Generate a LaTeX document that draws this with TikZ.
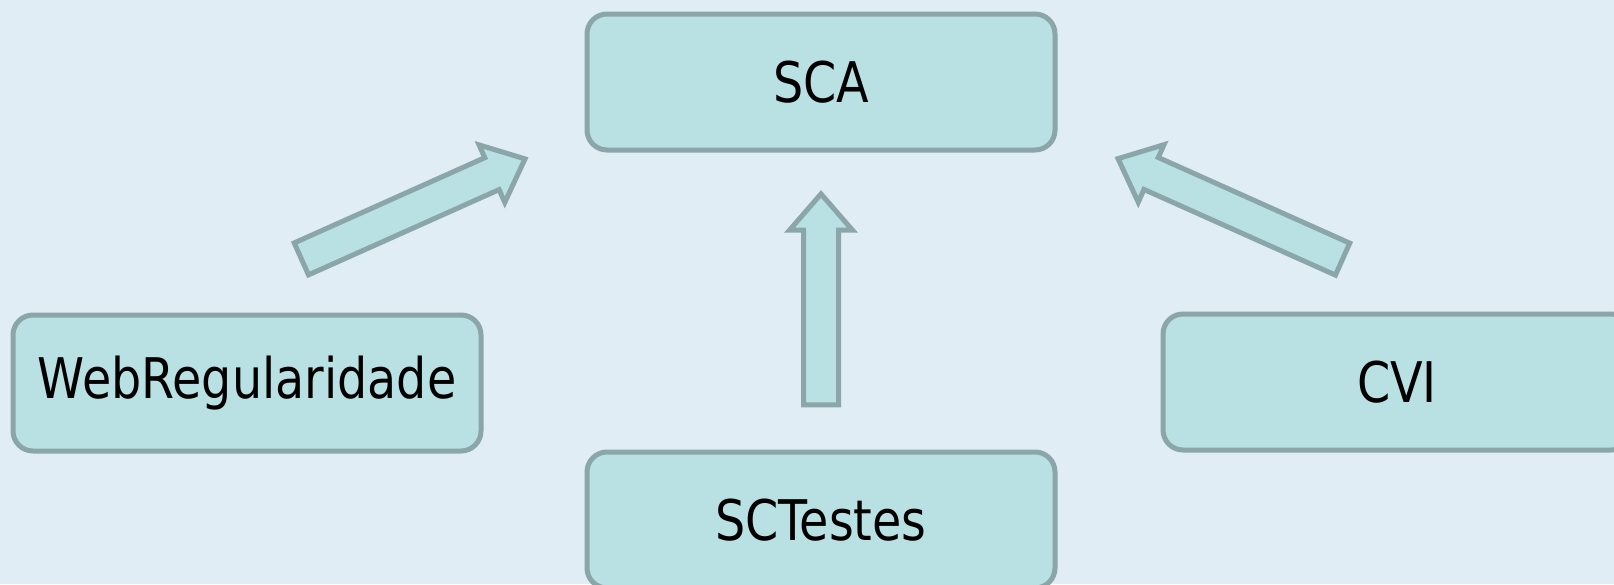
\documentclass[tikz,border=0pt]{standalone}
\usepackage{fontspec}
\usepackage{tikz}
\usetikzlibrary{shapes.arrows}

\newfontfamily\boxfont{DejaVu Sans}[FakeStretch=0.85]
\definecolor{slidebg}{HTML}{E0EDF4}
\definecolor{boxfill}{HTML}{B9E0E3}
\definecolor{boxline}{HTML}{8AA6A8}

\begin{document}
\begin{tikzpicture}[
        x=1pt, y=-1pt,
        system/.style = {rectangle, rounded corners=20pt, draw=boxline, fill=boxfill, line width=5pt,
                         minimum width=468pt, minimum height=136pt, inner sep=0pt,
                         font=\boxfont\fontsize{56}{66}\selectfont},
        uses/.style = {single arrow, draw=boxline, fill=boxfill, line width=5pt, node contents={},
                       inner sep=15pt, single arrow head extend=14pt, single arrow tip angle=82,
                       minimum height=#1, outer sep=0pt}
        ]

        \fill[slidebg] (0,0) rectangle (1614,584);
        \useasboundingbox (0,0) rectangle (1614,584);
        \clip (0,0) rectangle (1614,584);

        \node (sca) at (821,82)      [system] {SCA};
        \node (web) at (247,383)     [system] {WebRegularidade};
        \node (cvi) at (1397,382)    [system] {CVI};
        \node (sct) at (821,520)     [system] {SCTestes};

        \node (webarrow) at (404,213)    [uses=245pt, rotate=24.1];
        \node (sctarrow) at (821,309.5)  [uses=211pt, rotate=90];
        \node (cviarrow) at (1239.5,213) [uses=246pt, rotate=155.9];

    \end{tikzpicture}
\end{document}
